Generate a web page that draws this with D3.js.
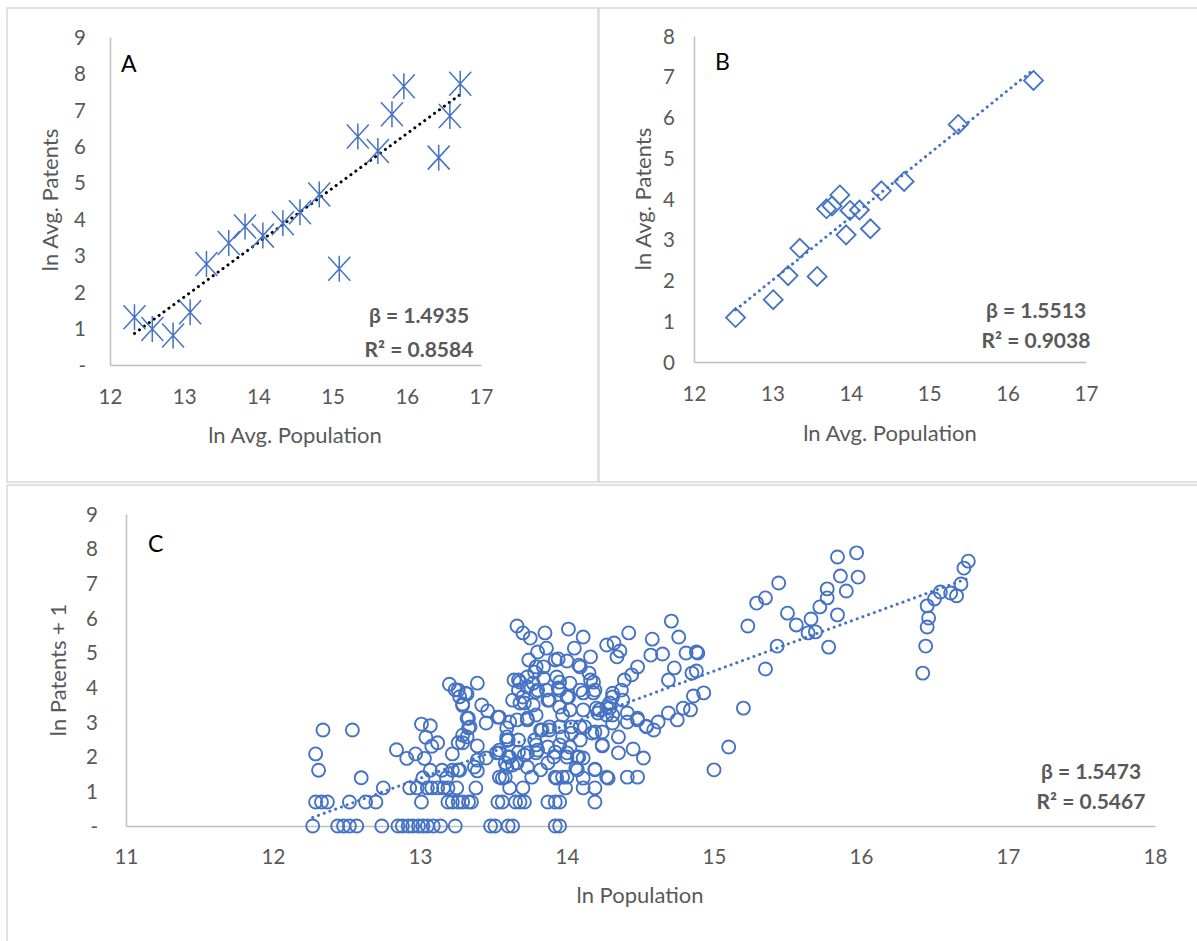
<!DOCTYPE html>
<html>
<head>
<meta charset="utf-8">
<script src="https://cdn.jsdelivr.net/npm/d3@7"></script>
<style>
  body { margin: 0; background: #fff; }
  text { font-family: Lato, "Open Sans", sans-serif; }
</style>
</head>
<body>
<div class="chart"></div>
<script>
// ---- panel A: ln avg population vs ln avg patents
const popA = [12.33, 12.57, 12.85, 13.08, 13.30, 13.60, 13.82, 14.06, 14.33, 14.56, 14.82, 15.09, 15.34, 15.61, 15.80, 15.96, 16.43, 16.58, 16.72];
const patA = [1.31, 0.99, 0.81, 1.45, 2.77, 3.35, 3.80, 3.55, 3.89, 4.19, 4.68, 2.64, 6.27, 5.87, 6.88, 7.65, 5.69, 6.83, 7.72];
const fitA = { slope: 1.4935, intercept: -17.55, r2: "0.8584" };

// ---- panel B
const popB = [12.53, 13.01, 13.20, 13.35, 13.57, 13.69, 13.76, 13.86, 13.94, 13.99, 14.11, 14.25, 14.39, 14.68, 15.37, 16.33];
const patB = [1.09, 1.53, 2.12, 2.79, 2.10, 3.76, 3.83, 4.10, 3.12, 3.72, 3.73, 3.27, 4.20, 4.43, 5.83, 6.91];
const fitB = { slope: 1.5513, intercept: -18.16, r2: "0.9038" };

// ---- panel C: cities with 0, 1 and 2 patents sit on fixed rows
const popZero = [12.27, 12.44, 12.48, 12.52, 12.57, 12.74, 12.85, 12.88, 12.92, 12.95, 12.99, 13.02, 13.05, 13.09, 13.14, 13.24, 13.48, 13.51, 13.60, 13.63, 13.92, 13.95];
const popOne = [12.29, 12.33, 12.37, 12.52, 12.63, 12.70, 13.01, 13.19, 13.22, 13.26, 13.29, 13.33, 13.35, 13.53, 13.56, 13.65, 13.68, 13.71, 13.87, 13.92, 13.95, 14.19];
const popTwo = [12.75, 12.93, 12.98, 13.05, 13.08, 13.12, 13.16, 13.19, 13.25, 13.38, 13.61, 13.70, 13.99, 14.11, 14.19];
const cityC = [
  [12.29,2.08],[12.31,1.61],[12.34,2.77],[12.54,2.77],[12.60,1.39],[12.84,2.20],[12.91,1.95],[12.97,2.08],
  [13.01,2.94],[13.07,2.89],[13.04,2.56],[13.08,2.30],[13.12,2.40],[13.03,1.95],[13.07,1.61],[13.02,1.39],
  [13.15,1.61],[13.20,4.09],[13.24,3.93],[13.27,3.73],[13.31,3.83],[13.29,3.48],[13.32,3.11],[13.33,2.83],
  [13.26,2.40],[13.29,2.40],[13.22,2.08],[13.27,1.61],[13.22,1.61],[13.18,1.39],
  [13.39,4.12],[13.32,3.81],[13.29,3.52],[13.42,3.49],[13.46,3.32],[13.53,3.14],[13.33,3.11],[13.34,2.86],
  [13.45,2.97],[13.26,3.92],[13.29,2.62],[13.32,2.57],[13.39,2.31],[13.45,1.96],[13.39,1.90],[13.37,1.70],
  [13.39,1.59],[13.26,1.62],[13.52,2.11],[13.64,4.21],[13.67,3.92],[13.59,2.83],[13.60,2.48],[13.58,1.41],[13.58,1.82],
  [13.66,5.77],[13.70,5.57],[13.75,5.42],[13.85,5.57],[14.01,5.68],[14.11,5.45],[14.05,5.13],[13.80,5.02],
  [13.86,5.13],[13.74,4.79],[13.79,4.59],[13.84,4.59],[13.92,4.79],[13.94,4.82],[14.00,4.76],[14.08,4.64],
  [14.16,4.88],[14.15,4.41],[14.18,4.15],[14.18,3.84],[14.11,3.84],[14.02,4.12],[13.95,4.15],[13.93,4.30],
  [13.84,4.26],[13.77,4.12],[13.73,4.30],[13.68,4.15],[13.63,3.63],[13.70,3.72],[13.79,3.87],[13.86,3.92],
  [13.95,3.92],[14.00,3.72],[13.88,3.63],[13.95,3.43],[14.02,3.35],[14.11,3.35],[13.77,3.49],[13.68,3.55],
  [13.54,3.14],[13.66,3.06],[13.73,3.11],[13.82,2.77],[13.88,2.77],[13.95,2.86],[14.03,2.68],[14.09,2.86],
  [14.17,2.68],[14.09,2.48],[14.02,2.28],[13.95,2.34],[13.87,2.28],[13.79,2.34],[13.59,2.48],[13.54,2.19],
  [13.61,1.99],[13.67,2.13],[13.73,2.11],[13.79,2.11],[13.91,1.99],[14.00,2.11],[14.07,1.99],[14.11,1.96],
  [13.54,1.41],[13.59,1.70],[13.66,1.82],[13.76,1.41],[13.82,1.62],[13.92,1.41],[13.97,1.41],[14.00,1.41],
  [14.07,1.62],[14.19,1.64],[14.27,1.41],[14.41,1.41],[14.48,1.41],[14.35,2.11],[14.45,2.22],[14.52,1.96],
  [14.35,2.57],[14.24,2.31],[14.31,2.97],[14.41,3.00],[14.48,3.06],[14.54,2.86],[14.59,2.77],[14.62,3.00],
  [14.69,3.26],[14.75,3.06],[14.79,3.40],[14.84,3.35],[14.86,3.75],[14.93,3.84],[14.85,4.41],[14.88,4.47],
  [14.89,4.99],[14.81,4.99],[14.73,4.56],[14.69,4.21],[14.65,4.96],[14.57,4.93],[14.58,5.39],[14.71,5.91],
  [14.76,5.45],[14.42,5.57],[14.27,5.22],[14.32,5.28],[14.36,5.05],[14.34,4.88],[14.48,4.59],[14.44,4.36],
  [14.39,4.21],[14.37,3.92],[14.31,3.72],[14.38,3.63],[14.27,3.43],[14.21,3.26],[14.41,3.26],[14.24,2.71],[14.31,3.20],
  [13.78,4.44],[14.09,4.59],[14.16,4.21],[14.19,3.92],[13.67,4.21],[13.73,4.01],[13.80,3.92],[13.94,3.98],
  [14.09,3.92],[13.71,3.55],[13.87,3.63],[14.01,3.72],[14.20,3.40],[14.27,3.20],[14.29,3.40],[13.61,3.00],
  [13.73,3.06],[13.79,3.20],[13.97,3.20],[14.03,2.86],[14.12,2.86],[14.19,2.71],[13.88,2.86],[13.83,2.77],
  [13.97,2.57],[13.78,2.48],[13.67,2.48],[13.59,2.57],[13.80,2.19],[13.71,2.05],[13.60,1.99],[13.54,2.11],
  [13.92,2.13],[14.00,1.99],[14.08,1.99],[14.24,2.34],[13.63,1.76],[13.73,1.70],[13.87,1.82],[14.06,1.67],
  [14.19,1.62],[13.56,1.38],[13.93,1.38],[14.11,1.38],[14.28,1.38],
  [14.88,5.02],[14.31,3.83],[14.29,3.55],[14.22,3.35],[14.48,3.11],[14.54,2.88],
  [15.00,1.62],[15.10,2.28],[15.20,3.40],[15.23,5.77],[15.29,6.43],[15.35,6.58],[15.44,7.01],[15.50,6.14],
  [15.56,5.80],[15.43,5.19],[15.35,4.53],
  [15.66,5.97],[15.64,5.57],[15.69,5.60],[15.72,6.32],[15.77,6.84],[15.77,6.58],[15.84,6.09],[15.78,5.16],
  [15.90,6.78],[15.84,7.76],[15.86,7.21],[15.97,7.88],[15.98,7.18],
  [16.42,4.41],[16.44,5.19],[16.45,5.74],[16.46,6.00],[16.45,6.35],[16.50,6.55],[16.54,6.75],[16.61,6.72],
  [16.65,6.64],[16.68,6.98],[16.70,7.44],[16.73,7.64]
];
const fitC = { slope: 1.5473, intercept: -18.74, r2: "0.5467" };

const ticksA = d3.range(0, 10), ticksB = d3.range(0, 9), ticksC = d3.range(0, 10);

const blue = "#4472C4", grey = "#595959", axisGrey = "#BFBFBF", frameGrey = "#D9D9D9";

const svg = d3.select(".chart")
  .append("svg")
  .attr("width", 1197)
  .attr("height", 941);

// panel frames
svg.append("rect").attr("x", 7).attr("y", 8).attr("width", 591).attr("height", 474)
  .attr("fill", "none").attr("stroke", frameGrey).attr("stroke-width", 1.5);
svg.append("rect").attr("x", 599).attr("y", 8).attr("width", 610).attr("height", 474)
  .attr("fill", "none").attr("stroke", frameGrey).attr("stroke-width", 1.5);
svg.append("rect").attr("x", 7).attr("y", 485).attr("width", 1200).attr("height", 470)
  .attr("fill", "none").attr("stroke", frameGrey).attr("stroke-width", 1.5);

function drawPanel(p) {
  const xScale = d3.scaleLinear().domain(p.xDomain).range([p.left, p.right]);
  const yScale = d3.scaleLinear().domain(p.yDomain).range([p.bottom, p.top]);
  const g = svg.append("g");

  // axes (Excel style: plain lines, no ticks)
  const xAxis = d3.axisBottom(xScale).tickValues(p.xTicks).tickSize(0).tickFormat(d3.format("d"));
  const yAxis = d3.axisLeft(yScale).tickValues(p.yTicks).tickSize(0)
    .tickFormat(d => d === 0 ? p.zeroLabel : d);

  const xg = g.append("g").attr("transform", `translate(0, ${p.bottom})`).call(xAxis);
  xg.select(".domain").attr("stroke", axisGrey).attr("stroke-width", 1.5);
  xg.selectAll("text").attr("y", p.xLabelOffset).attr("dy", 0)
    .attr("fill", grey).attr("font-size", 20.5).attr("font-family", "Lato");

  const yg = g.append("g").attr("transform", `translate(${p.left}, 0)`).call(yAxis);
  yg.select(".domain").attr("stroke", axisGrey).attr("stroke-width", 1.5);
  yg.selectAll("text").attr("x", -p.yLabelOffset).attr("dy", "0.35em")
    .attr("fill", grey).attr("font-size", 20.5).attr("font-family", "Lato");

  // trend line
  const ext = d3.extent(p.points, d => d[0]);
  const line = d3.line().x(d => xScale(d)).y(d => yScale(p.fit.slope * d + p.fit.intercept));
  g.append("path")
    .datum(ext)
    .attr("d", line)
    .attr("fill", "none")
    .attr("stroke", p.fitColor)
    .attr("stroke-width", 3)
    .attr("stroke-linecap", "round")
    .attr("stroke-dasharray", "0.1 6");

  // markers
  g.selectAll("path.pt")
    .data(p.points)
    .enter()
    .append("path")
    .attr("class", "pt")
    .attr("transform", d => `translate(${xScale(d[0])}, ${yScale(d[1])})`)
    .attr("d", p.marker)
    .attr("fill", "none")
    .attr("stroke", blue)
    .attr("stroke-width", p.markerWidth);

  // labels
  g.append("text")
    .attr("x", p.letterX).attr("y", p.letterY)
    .attr("font-size", 23).attr("fill", "#000")
    .text(p.letter);

  g.append("text")
    .attr("x", p.xTitleX).attr("y", p.xTitleY)
    .attr("text-anchor", "middle").attr("font-size", 22).attr("fill", grey)
    .text(p.xTitle);

  g.append("text")
    .attr("transform", `translate(${p.yTitleX}, ${p.yTitleY}) rotate(-90)`)
    .attr("text-anchor", "middle").attr("font-size", 22).attr("fill", grey)
    .text(p.yTitle);

  g.append("text")
    .attr("x", p.statX).attr("y", p.statY)
    .attr("text-anchor", "middle").attr("font-size", 21).attr("font-weight", "bold").attr("fill", grey)
    .text("β = " + p.fit.slope.toFixed(4));
  g.append("text")
    .attr("x", p.statX).attr("y", p.statY + p.statGap)
    .attr("text-anchor", "middle").attr("font-size", 21).attr("font-weight", "bold").attr("fill", grey)
    .text("R² = " + p.fit.r2);
}

const star = "M-11,-12L11,12M-11,12L11,-12M0,-13L0,13";
const diamond = "M0,-9.5L9.5,0L0,9.5L-9.5,0Z";
const circle = d3.symbol().type(d3.symbolCircle).size(Math.PI * 6.5 * 6.5)();

drawPanel({
  points: popA.map((x, i) => [x, patA[i]]),
  fit: fitA, fitColor: "#000",
  xDomain: [12, 17], yDomain: [0, 9], xTicks: d3.range(12, 18), yTicks: ticksA, zeroLabel: "-",
  left: 110, right: 481, top: 37, bottom: 365,
  xLabelOffset: 39, yLabelOffset: 24,
  marker: star, markerWidth: 1.5,
  letter: "A", letterX: 121, letterY: 72,
  xTitle: "ln Avg. Population", xTitleX: 295, xTitleY: 443,
  yTitle: "ln Avg. Patents", yTitleX: 58, yTitleY: 200,
  statX: 419, statY: 323, statGap: 34
});

drawPanel({
  points: popB.map((x, i) => [x, patB[i]]),
  fit: fitB, fitColor: blue,
  xDomain: [12, 17], yDomain: [0, 8], xTicks: d3.range(12, 18), yTicks: ticksB, zeroLabel: "0",
  left: 694, right: 1086, top: 36, bottom: 362,
  xLabelOffset: 39, yLabelOffset: 19,
  marker: diamond, markerWidth: 1.8,
  letter: "B", letterX: 715, letterY: 70,
  xTitle: "ln Avg. Population", xTitleX: 890, xTitleY: 441,
  yTitle: "ln Avg. Patents", yTitleX: 651, yTitleY: 199,
  statX: 1036, statY: 318, statGap: 30
});

const pointsC = []
  .concat(popZero.map(x => [x, 0]))
  .concat(popOne.map(x => [x, Math.log(2)]))
  .concat(popTwo.map(x => [x, Math.log(3)]))
  .concat(cityC);

drawPanel({
  points: pointsC,
  fit: fitC, fitColor: blue,
  xDomain: [11, 18], yDomain: [0, 9], xTicks: d3.range(11, 19), yTicks: ticksC, zeroLabel: "-",
  left: 126, right: 1155, top: 514, bottom: 826,
  xLabelOffset: 38, yLabelOffset: 28,
  marker: circle, markerWidth: 1.9,
  letter: "C", letterX: 148, letterY: 552,
  xTitle: "ln Population", xTitleX: 640, xTitleY: 903,
  yTitle: "ln Patents + 1", yTitleX: 66, yTitleY: 670,
  statX: 1091, statY: 779, statGap: 30
});
</script>
</body>
</html>
